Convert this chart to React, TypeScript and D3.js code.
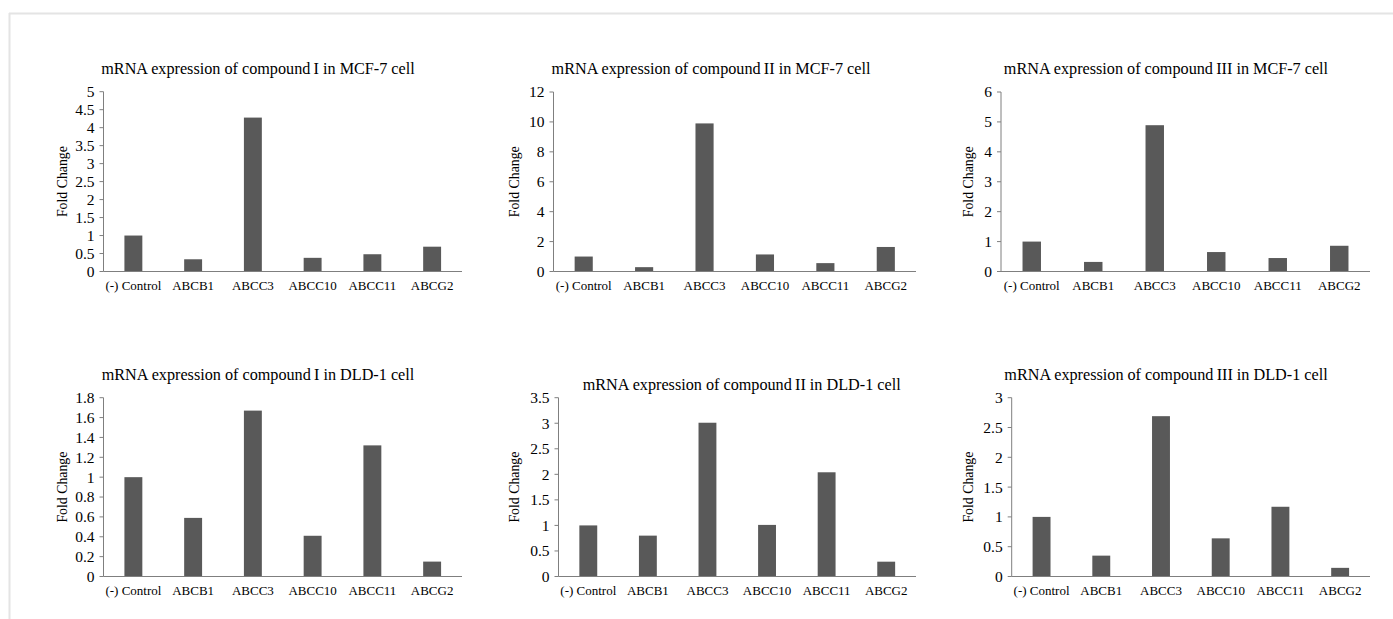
import React from "react";
import * as d3 from "d3";

const categories = ["(-) Control", "ABCB1", "ABCC3", "ABCC10", "ABCC11", "ABCG2"];

const titles = [
  "mRNA expression of compound\u2009I in MCF-7 cell",
  "mRNA expression of compound\u2009II  in MCF-7 cell",
  "mRNA expression of compound\u2009III  in MCF-7 cell",
  "mRNA expression of compound\u2009I in DLD-1 cell",
  "mRNA expression of compound\u2009II  in DLD-1 cell",
  "mRNA expression of compound\u2009III  in DLD-1 cell",
];

const mcf7CompoundI = [1.0, 0.34, 4.28, 0.38, 0.48, 0.69];
const mcf7CompoundII = [1.0, 0.29, 9.9, 1.14, 0.56, 1.64];
const mcf7CompoundIII = [1.0, 0.32, 4.89, 0.65, 0.45, 0.86];
const dld1CompoundI = [1.0, 0.59, 1.67, 0.41, 1.32, 0.15];
const dld1CompoundII = [1.0, 0.8, 3.01, 1.01, 2.04, 0.29];
const dld1CompoundIII = [1.0, 0.35, 2.69, 0.64, 1.17, 0.145];

const ticksI_MCF = ["0", "0.5", "1", "1.5", "2", "2.5", "3", "3.5", "4", "4.5", "5"];
const ticksII_MCF = ["0", "2", "4", "6", "8", "10", "12"];
const ticksIII_MCF = ["0", "1", "2", "3", "4", "5", "6"];
const ticksI_DLD = ["0", "0.2", "0.4", "0.6", "0.8", "1", "1.2", "1.4", "1.6", "1.8"];
const ticksII_DLD = ["0", "0.5", "1", "1.5", "2", "2.5", "3", "3.5"];
const ticksIII_DLD = ["0", "0.5", "1", "1.5", "2", "2.5", "3"];

const seriesList = [mcf7CompoundI, mcf7CompoundII, mcf7CompoundIII, dld1CompoundI, dld1CompoundII, dld1CompoundIII];
const tickList = [ticksI_MCF, ticksII_MCF, ticksIII_MCF, ticksI_DLD, ticksII_DLD, ticksIII_DLD];

// layout (positions only)
const layouts = [
  { left: 103.5, right: 462, top: 91.7, bottom: 271.5, titleX: 258, titleY: 74, ylabX: 67 },
  { left: 553.5, right: 916, top: 92, bottom: 271.5, titleX: 711, titleY: 74, ylabX: 519 },
  { left: 1001, right: 1370, top: 92, bottom: 271.5, titleX: 1166, titleY: 74, ylabX: 973 },
  { left: 103.5, right: 462, top: 397.7, bottom: 576.5, titleX: 258, titleY: 380, ylabX: 67 },
  { left: 558.5, right: 916, top: 397.7, bottom: 576.5, titleX: 741.7, titleY: 390, ylabX: 519 },
  { left: 1011.7, right: 1370, top: 397.7, bottom: 576.5, titleX: 1166, titleY: 380, ylabX: 973 },
];

const FONT = "'Liberation Serif', 'DejaVu Serif', 'Times New Roman', serif";
const BAR = "#595959";
const AXIS = "#7f7f7f";

function Panel({ idx }: { idx: number }) {
  const L = layouts[idx];
  const values = seriesList[idx];
  const ticks = tickList[idx].map(Number);
  const maxT = ticks[ticks.length - 1];
  const y = d3.scaleLinear().domain([0, maxT]).range([L.bottom, L.top]);
  const x = d3.scaleBand<string>().domain(categories).range([L.left, L.right]).padding(0);
  const bw = x.bandwidth() * 0.3;
  const midY = (L.top + L.bottom) / 2;
  return (
    <g>
      <text x={L.titleX} y={L.titleY} textAnchor="middle" fontFamily={FONT} fontSize={16.2} fill="#000">
        {titles[idx]}
      </text>
      <text
        transform={`translate(${L.ylabX},${midY}) rotate(-90)`}
        textAnchor="middle"
        fontFamily={FONT}
        fontSize={13.8}
        fill="#000"
      >
        Fold Change
      </text>
      {values.map((v, i) => (
        <rect
          key={i}
          x={(x(categories[i]) as number) + x.bandwidth() / 2 - bw / 2}
          y={y(v)}
          width={bw}
          height={L.bottom - y(v)}
          fill={BAR}
        />
      ))}
      <line x1={L.left} x2={L.left} y1={L.top} y2={L.bottom} stroke={AXIS} strokeWidth={1} />
      <line x1={L.left} x2={L.right} y1={L.bottom} y2={L.bottom} stroke={AXIS} strokeWidth={1} />
      {tickList[idx].map((t, i) => (
        <g key={t}>
          <line x1={L.left - 4} x2={L.left} y1={y(ticks[i])} y2={y(ticks[i])} stroke={AXIS} strokeWidth={1} />
          <text
            x={L.left - 9}
            y={y(ticks[i])}
            dy="0.35em"
            textAnchor="end"
            fontFamily={FONT}
            fontSize={15.5}
            fill="#000"
          >
            {t}
          </text>
        </g>
      ))}
      {categories.map((c) => (
        <text
          key={c}
          x={(x(c) as number) + x.bandwidth() / 2}
          y={L.bottom + 18.5}
          textAnchor="middle"
          fontFamily={FONT}
          fontSize={13}
          fill="#000"
        >
          {c}
        </text>
      ))}
    </g>
  );
}

export default function App() {
  return (
    <svg
      width={1393}
      height={619}
      style={{ position: "absolute", left: 0, top: 0, background: "#fff" }}
    >
      <rect x={0} y={0} width={1393} height={619} fill="#fff" />
      <line x1={9} x2={1393} y1={13.5} y2={13.5} stroke="#e4e4e4" strokeWidth={2} />
      <line x1={9.5} x2={9.5} y1={13} y2={619} stroke="#e4e4e4" strokeWidth={2} />
      {layouts.map((_, i) => (
        <Panel key={i} idx={i} />
      ))}
    </svg>
  );
}
